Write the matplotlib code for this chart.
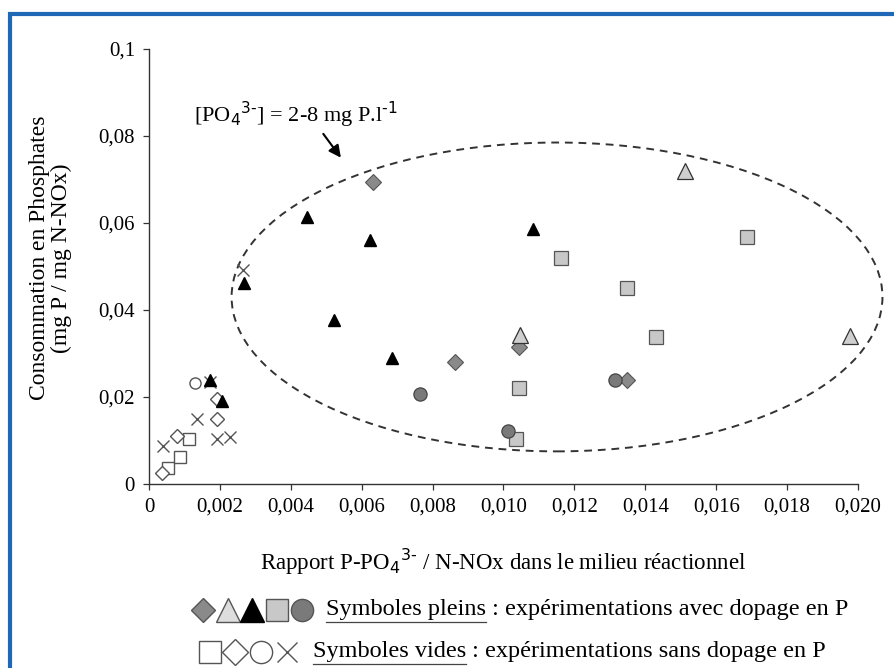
import matplotlib
matplotlib.use("Agg")
import matplotlib.pyplot as plt
from matplotlib.patches import Ellipse, Rectangle
from matplotlib.ticker import FixedLocator, FixedFormatter

plt.rcParams['font.family'] = ['Liberation Serif', 'DejaVu Serif']

# symboles pleins (avec dopage en P)
losange_x = [0.00632, 0.00863, 0.01044, 0.01348]
losange_y = [0.0694, 0.0280, 0.0315, 0.0239]

tri_clair_x = [0.01512, 0.01977, 0.01047]
tri_clair_y = [0.0720, 0.0340, 0.0343]

tri_noir_x = [0.00172, 0.00206, 0.00268, 0.00446, 0.00623, 0.00522, 0.00685, 0.01083]
tri_noir_y = [0.0239, 0.0191, 0.0462, 0.0614, 0.0561, 0.0377, 0.0290, 0.0586]

carre_x = [0.01687, 0.01162, 0.01348, 0.01430, 0.01044, 0.01035]
carre_y = [0.0568, 0.0520, 0.0451, 0.0338, 0.0221, 0.0103]

rond_x = [0.00764, 0.01013, 0.01315]
rond_y = [0.0207, 0.0122, 0.0239]

# symboles vides (sans dopage en P)
carre_vide_x = [0.00054, 0.00087, 0.00113]
carre_vide_y = [0.0037, 0.0062, 0.0103]

losange_vide_x = [0.00037, 0.00079, 0.00192, 0.00192]
losange_vide_y = [0.0025, 0.0110, 0.0149, 0.0195]

rond_vide_x = [0.00130]
rond_vide_y = [0.0232]

croix_x = [0.00040, 0.00135, 0.00192, 0.00228, 0.00172, 0.00265]
croix_y = [0.0087, 0.0149, 0.0103, 0.0108, 0.0234, 0.0492]

x_ticks = [0, 0.002, 0.004, 0.006, 0.008, 0.010, 0.012, 0.014, 0.016, 0.018, 0.020]
x_labels = ['0', '0,002', '0,004', '0,006', '0,008', '0,010', '0,012', '0,014', '0,016', '0,018', '0,020']
y_ticks = [0, 0.02, 0.04, 0.06, 0.08, 0.1]
y_labels = ['0', '0,02', '0,04', '0,06', '0,08', '0,1']

fig = plt.figure(figsize=(8.95, 6.68), dpi=100)
fig.patch.set_facecolor('white')
ax = fig.add_axes([149/895, 1-484/668, (858-149)/895, (484-49)/668])

ax.plot(losange_x, losange_y, 'D', ms=8, mfc='#8a8a8a', mec='#555555', mew=0.8, ls='none', zorder=3)
ax.plot(tri_clair_x, tri_clair_y, '^', ms=11, mfc='#cfcfcf', mec='#333333', mew=0.9, ls='none', zorder=3)
ax.plot(tri_noir_x, tri_noir_y, '^', ms=9, mfc='black', mec='black', ls='none', zorder=4)
ax.plot(carre_x, carre_y, 's', ms=10, mfc='#c8c8c8', mec='#555555', mew=0.9, ls='none', zorder=3)
ax.plot(rond_x, rond_y, 'o', ms=9.5, mfc='#7a7a7a', mec='#444444', mew=0.9, ls='none', zorder=3)

ax.plot(carre_vide_x, carre_vide_y, 's', ms=8.5, mfc='white', mec='#555555', mew=1, ls='none', zorder=3)
ax.plot(losange_vide_x, losange_vide_y, 'D', ms=7.5, mfc='white', mec='#555555', mew=1, ls='none', zorder=3)
ax.plot(rond_vide_x, rond_vide_y, 'o', ms=8, mfc='white', mec='#555555', mew=1, ls='none', zorder=3)
ax.plot(croix_x, croix_y, 'x', ms=9, mec='#555555', mew=1, ls='none', zorder=3)

ell = Ellipse((0.01151, 0.0430), 0.01836, 0.0710, fill=False, ls=(0, (4, 3)), lw=1.4,
              ec='#333333', clip_on=False, zorder=2)
ax.add_patch(ell)

ax.annotate('', xy=(0.00546, 0.0745), xytext=(0.00487, 0.0810),
            arrowprops=dict(arrowstyle='-|>', color='black', lw=1.5, mutation_scale=18),
            annotation_clip=False)
ax.text(0.00128, 0.0848, '[PO$_4$$^{3\\text{-}}$] = 2-8 mg P.l$^{\\text{-}1}$', fontsize=16, ha='left', va='center')

ax.set_xlim(0, 0.020)
ax.set_ylim(0, 0.1)
ax.xaxis.set_major_locator(FixedLocator(x_ticks))
ax.xaxis.set_major_formatter(FixedFormatter(x_labels))
ax.yaxis.set_major_locator(FixedLocator(y_ticks))
ax.yaxis.set_major_formatter(FixedFormatter(y_labels))
ax.tick_params(labelsize=15, length=4, width=0.9, color='#333333', direction='out', pad=6)
for s in ['top', 'right']:
    ax.spines[s].set_visible(False)
for s in ['left', 'bottom']:
    ax.spines[s].set_color('#333333')
    ax.spines[s].set_linewidth(1)

ax.set_xlabel('Rapport P-PO$_4$$^{3\\text{-}}$ / N-NOx dans le milieu réactionnel', fontsize=16.5)
ax.xaxis.set_label_coords(0.5, -0.145)
ax.set_ylabel('Consommation en Phosphates\n(mg P / mg N-NOx)', fontsize=17, linespacing=1.05)
ax.yaxis.set_label_coords(-0.108, 0.52)

# legende en bas
leg = fig.add_axes([0, 0, 1, 0.12])
leg.set_xlim(0, 895)
leg.set_ylim(668, 668 - 0.12*668)
leg.axis('off')
r1, r2 = 610, 652
leg.plot([203], [r1], 'D', ms=12, mfc='#8a8a8a', mec='#555555', clip_on=False)
leg.plot([228], [r1], '^', ms=17, mfc='#dddddd', mec='#555555', clip_on=False)
leg.plot([252], [r1], '^', ms=17, mfc='black', mec='black', clip_on=False)
leg.plot([277], [r1], 's', ms=16, mfc='#c8c8c8', mec='#555555', clip_on=False)
leg.plot([302], [r1], 'o', ms=16, mfc='#7a7a7a', mec='#555555', clip_on=False)
leg.plot([210], [r2], 's', ms=16, mfc='white', mec='#555555', clip_on=False)
leg.plot([235], [r2], 'D', ms=13, mfc='white', mec='#555555', clip_on=False)
leg.plot([261], [r2], 'o', ms=16, mfc='white', mec='#555555', clip_on=False)
leg.plot([287], [r2], 'x', ms=14, mec='#555555', mew=1, clip_on=False)

t1 = leg.text(326, r1, 'Symboles pleins', fontsize=17.5, va='center', ha='left')
leg.annotate(' : expérimentations avec dopage en P', xy=(1, 0.5), xycoords=t1,
             fontsize=17.5, va='center', ha='left')
t2 = leg.text(313, r2, 'Symboles vides', fontsize=17.5, va='center', ha='left')
leg.annotate(' : expérimentations sans dopage en P', xy=(1, 0.5), xycoords=t2,
             fontsize=17.5, va='center', ha='left')

# soulignement
fig.canvas.draw()
inv = leg.transData.inverted()
for t, r in [(t1, r1), (t2, r2)]:
    bb = t.get_window_extent()
    xa = inv.transform((bb.x0, bb.y0))[0]
    xb = inv.transform((bb.x1, bb.y0))[0]
    leg.plot([xa, xb], [r + 12, r + 12], color='#444444', lw=0.9, clip_on=False)

# cadre bleu
fig.add_artist(Rectangle((10/895, -0.1), 1.2, 1.1 - 14/668, transform=fig.transFigure,
                         fill=False, ec='#1f68b8', lw=3, clip_on=False))

fig.savefig('out.png', dpi=100)
